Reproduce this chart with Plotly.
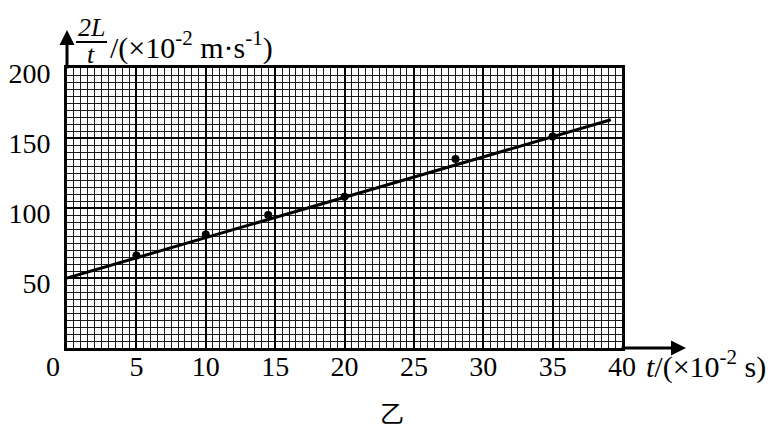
import plotly.graph_objects as go

# measured data points (t in 1e-2 s, 2L/t in 1e-2 m/s)
t_vals = [5, 10, 14.5, 20, 28, 35]
v_vals = [66, 81, 95, 108, 135, 151]
# fitted straight line
fit_t = [0, 39.2]
fit_v = [50, 163]

x_ticks = [5, 10, 15, 20, 25, 30, 35, 40]
y_ticks = [50, 100, 150, 200]

FONT = "Liberation Serif"
FS = 28

fig = go.Figure()
fig.add_trace(go.Scatter(x=fit_t, y=fit_v, mode="lines",
                         line=dict(color="black", width=3), showlegend=False))
fig.add_trace(go.Scatter(x=t_vals, y=v_vals, mode="markers",
                         marker=dict(color="black", size=8), showlegend=False))

L, R, T, B = 67, 156, 68, 78
W, H = 778, 426
pw, ph = W - L - R, H - T - B

def px(x):
    return (x - L) / pw

def py(y):
    return (H - B - y) / ph

fig.update_layout(
    width=W, height=H,
    margin=dict(l=L, r=R, t=T, b=B, autoexpand=False),
    paper_bgcolor="white", plot_bgcolor="white",
    font=dict(family=FONT, size=FS, color="black"),
    xaxis=dict(range=[0, 40], tickvals=x_ticks, ticks="", showline=True,
               linecolor="black", linewidth=3, mirror=True, automargin=False,
               showgrid=True, gridcolor="black", gridwidth=2, zeroline=False,
               ticklabelstandoff=-9,
               minor=dict(dtick=0.5, showgrid=True, gridcolor="#1a1a1a", gridwidth=1.3),
               tickfont=dict(family=FONT, size=FS)),
    yaxis=dict(range=[0, 200], tickvals=y_ticks, ticks="", showline=True,
               linecolor="black", linewidth=3, mirror=True, automargin=False,
               showgrid=True, gridcolor="black", gridwidth=2, zeroline=False,
               ticklabelstandoff=8, ticklabelshift=5,
               minor=dict(dtick=5, showgrid=True, gridcolor="#1a1a1a", gridwidth=1.3),
               tickfont=dict(family=FONT, size=FS)),
)

# axis arrows
fig.add_annotation(x=0, y=py(30), xref="paper", yref="paper", text="",
                   showarrow=True, ax=0, ay=40, arrowhead=2, arrowsize=1,
                   arrowwidth=3, arrowcolor="black")
fig.add_annotation(x=px(686), y=0, xref="paper", yref="paper", text="",
                   showarrow=True, ax=-66, ay=0, arrowhead=2, arrowsize=1,
                   arrowwidth=3, arrowcolor="black")

# y axis title as fraction
fig.add_annotation(x=px(91), y=py(27), xref="paper", yref="paper",
                   text="<i>2L</i>", showarrow=False, xanchor="center", yanchor="middle",
                   font=dict(family=FONT, size=26), borderpad=0)
fig.add_shape(type="line", xref="paper", yref="paper",
              x0=px(76), x1=px(107), y0=py(42), y1=py(42),
              line=dict(color="black", width=2))
fig.add_annotation(x=px(91), y=py(55), xref="paper", yref="paper",
                   text="<i>t</i>", showarrow=False, xanchor="center", yanchor="middle",
                   font=dict(family=FONT, size=26), borderpad=0)
fig.add_annotation(x=px(108), y=py(45), xref="paper", yref="paper",
                   text="/(×10<sup>-2</sup> m·s<sup>-1</sup>)", showarrow=False,
                   xanchor="left", yanchor="middle", font=dict(family=FONT, size=30))

# x axis title
fig.add_annotation(x=px(644), y=py(364), xref="paper", yref="paper",
                   text="<i>t</i>/(×10<sup>-2</sup> s)", showarrow=False,
                   xanchor="left", yanchor="middle", font=dict(family=FONT, size=30))

# origin label
fig.add_annotation(x=px(53), y=py(366), xref="paper", yref="paper",
                   text="0", showarrow=False, xanchor="center", yanchor="middle",
                   font=dict(family=FONT, size=FS))

# caption
fig.add_annotation(x=px(392), y=py(411), xref="paper", yref="paper",
                   text="乙", showarrow=False, xanchor="center", yanchor="middle",
                   font=dict(family="Noto Sans CJK SC", size=24))

fig.write_html("out.html", config={"displayModeBar": False},
               post_script="document.body.style.margin='0';")
